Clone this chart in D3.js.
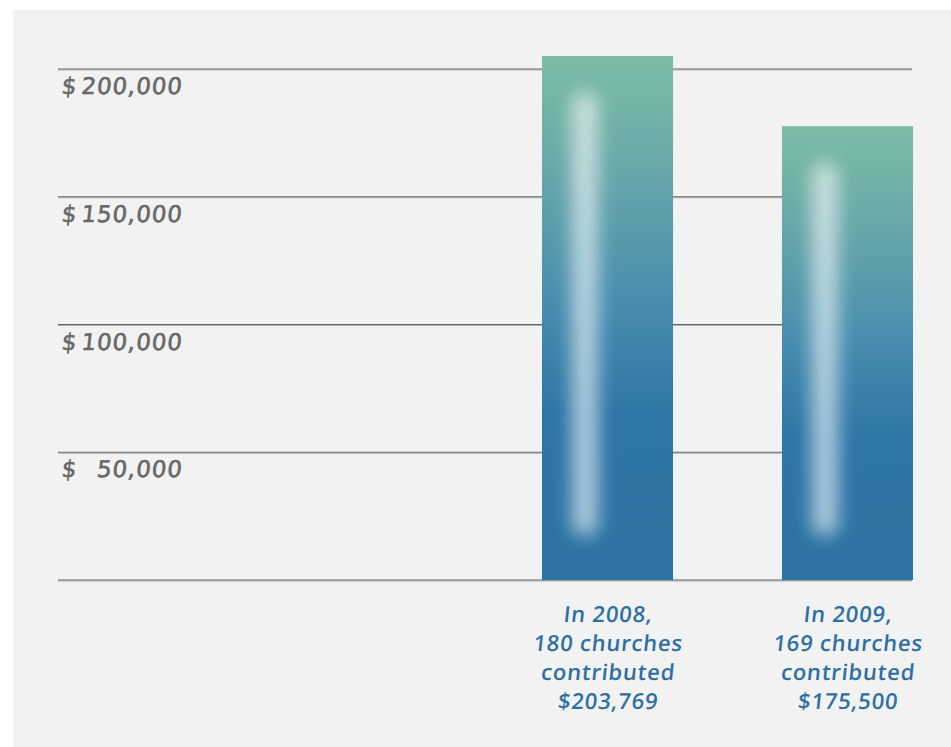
<!DOCTYPE html>
<html>
<head>
<meta charset="utf-8">
<script src="https://cdn.jsdelivr.net/npm/d3@7"></script>
<style>
  html, body { margin: 0; padding: 0; background: #fff; }
  svg { display: block; }
</style>
</head>
<body>
<script>
// values
const years = ["2008", "2009"];
const amounts = [205100, 177600];
const labelLines = [
    ["In 2008,", "180 churches", "contributed", "$203,769"],
    ["In 2009,", "169 churches", "contributed", "$175,500"]
];
const tickValues = [50000, 100000, 150000, 200000];

const width = 951;
const height = 747;
const slant = -6;

const svg = d3.select("body").append("svg")
    .attr("width", width)
    .attr("height", height);

const defs = svg.append("defs");

const grad = defs.append("linearGradient")
    .attr("id", "barGrad")
    .attr("x1", 0).attr("y1", 0).attr("x2", 0).attr("y2", 1);
grad.append("stop").attr("offset", "0%").attr("stop-color", "#7cbca6");
grad.append("stop").attr("offset", "20%").attr("stop-color", "#6aa9a8");
grad.append("stop").attr("offset", "45%").attr("stop-color", "#4a8fae");
grad.append("stop").attr("offset", "68%").attr("stop-color", "#2e76a5");
grad.append("stop").attr("offset", "100%").attr("stop-color", "#2d73a3");

defs.append("filter")
    .attr("id", "glowBlur")
    .attr("x", "-100%").attr("y", "-20%")
    .attr("width", "300%").attr("height", "140%")
    .append("feGaussianBlur")
    .attr("stdDeviation", 9);

// background panel
svg.append("rect")
    .attr("x", 13).attr("y", 10)
    .attr("width", width - 13).attr("height", height - 10)
    .attr("fill", "#f2f2f2");

const x = d3.scaleBand()
    .domain(years)
    .range([542, 913])
    .paddingInner(0.454)
    .paddingOuter(0);

const y = d3.scaleLinear()
    .domain([0, 200000])
    .range([580, 69]);

const gridLeft = 58, gridRight = 912;

// gridlines (dark line with a lighter shadow under it)
const grid = svg.append("g");
[0].concat(tickValues).forEach(v => {
    grid.append("line")
        .attr("x1", gridLeft).attr("x2", gridRight)
        .attr("y1", y(v) + 1).attr("y2", y(v) + 1)
        .attr("stroke", "#b0b0b0").attr("stroke-width", 1);
    grid.append("line")
        .attr("x1", gridLeft).attr("x2", gridRight)
        .attr("y1", y(v)).attr("y2", y(v))
        .attr("stroke", "#666").attr("stroke-width", 1.2);
});

// tick labels
const fmt = d3.format(",");
const ticks = svg.append("g")
    .style("font-family", "'DejaVu Sans', sans-serif")
    .style("font-size", "23px")
    .attr("fill", "#686868")
    .attr("stroke", "#686868")
    .attr("stroke-width", 0.6);

tickValues.forEach(v => {
    ticks.append("text")
        .attr("transform", `translate(61,${y(v) + 25}) skewX(${slant})`)
        .text("$");
    ticks.append("text")
        .attr("transform", `translate(182,${y(v) + 25}) skewX(${slant})`)
        .attr("text-anchor", "end")
        .style("letter-spacing", "0.9px")
        .text(fmt(v));
});

// bars
const bars = svg.append("g");
bars.selectAll("rect.bar")
    .data(amounts)
    .enter()
    .append("rect")
    .attr("class", "bar")
    .attr("x", (d, i) => x(years[i]))
    .attr("y", d => y(d))
    .attr("width", x.bandwidth())
    .attr("height", d => y(0) - y(d))
    .attr("fill", "url(#barGrad)");

// soft highlight stripe inside each bar
bars.selectAll("rect.glow")
    .data(amounts)
    .enter()
    .append("rect")
    .attr("class", "glow")
    .attr("x", (d, i) => x(years[i]) + 30)
    .attr("y", d => y(d) + 36)
    .attr("width", 26)
    .attr("height", d => y(0) - y(d) - 80)
    .attr("rx", 13)
    .attr("fill", "#fff")
    .attr("opacity", 0.6)
    .attr("filter", "url(#glowBlur)");

// category labels
const labels = svg.append("g")
    .style("font-family", "'Open Sans', sans-serif")
    .style("font-size", "22px")
    .style("font-weight", 600)
    .style("letter-spacing", "0.8px")
    .attr("fill", "#2e70a1")
    .attr("text-anchor", "middle");

labelLines.forEach((lines, i) => {
    const cx = x(years[i]) + x.bandwidth() / 2;
    lines.forEach((t, j) => {
        labels.append("text")
            .attr("transform", `translate(${cx},${622 + j * 29}) skewX(${slant})`)
            .text(t);
    });
});
</script>
</body>
</html>
